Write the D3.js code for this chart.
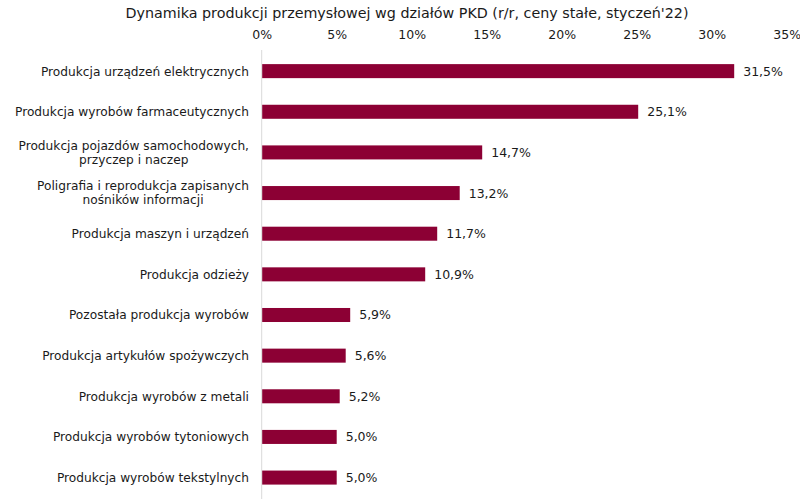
<!DOCTYPE html>
<html><head><meta charset="utf-8">
<script src="https://cdn.jsdelivr.net/npm/d3@7"></script>
<style>body{margin:0;background:#fff}svg{display:block}text{font-family:"DejaVu Sans",Verdana,sans-serif;fill:#1a1a1a}</style>
</head><body><svg id="c" width="800" height="499"></svg>
<script>
const title = "Dynamika produkcji przemysłowej wg działów PKD (r/r, ceny stałe, styczeń'22)";
const categories = [
  ["Produkcja urządzeń elektrycznych"],
  ["Produkcja wyrobów farmaceutycznych"],
  ["Produkcja pojazdów samochodowych,", "przyczep i naczep"],
  ["Poligrafia i reprodukcja zapisanych", "nośników informacji"],
  ["Produkcja maszyn i urządzeń"],
  ["Produkcja odzieży"],
  ["Pozostała produkcja wyrobów"],
  ["Produkcja artykułów spożywczych"],
  ["Produkcja wyrobów z metali"],
  ["Produkcja wyrobów tytoniowych"],
  ["Produkcja wyrobów tekstylnych"]
];
const values = [31.5, 25.1, 14.7, 13.2, 11.7, 10.9, 5.9, 5.6, 5.2, 5.0, 5.0];
const tickValues = [0, 5, 10, 15, 20, 25, 30, 35];

const svg = d3.select("#c");
const x = d3.scaleLinear().domain([0, 35]).range([261.7, 786.7]);
const y = d3.scaleBand().domain(d3.range(categories.length)).range([50.7, 498]).paddingInner(0.655).paddingOuter(0.33);
const fmt = v => v.toFixed(1).replace(".", ",") + "%";

svg.append("text").attr("x", 407).attr("y", 17.5).attr("text-anchor", "middle")
  .style("font-size", "14.3px").text(title);

const ax = svg.append("g").attr("transform", `translate(0,39)`)
  .call(d3.axisTop(x).tickValues(tickValues).tickSize(0).tickPadding(0).tickFormat(d => d + "%"));
ax.select(".domain").remove();
ax.selectAll("text").style("font-size", "12.5px").style("font-family", '"DejaVu Sans",Verdana,sans-serif').attr("fill", "#1a1a1a");

svg.append("line").attr("x1", x(0)).attr("x2", x(0)).attr("y1", 50).attr("y2", 499)
  .attr("stroke", "#d9d9d9").attr("stroke-width", 1);

svg.selectAll("rect.bar").data(values).join("rect").attr("class", "bar")
  .attr("x", x(0) + 0.5).attr("y", (d, i) => y(i)).attr("height", y.bandwidth())
  .attr("width", d => x(d) - x(0) - 0.5).attr("fill", "#8c0034");

svg.selectAll("text.val").data(values).join("text").attr("class", "val")
  .attr("x", d => x(d) + 9).attr("y", (d, i) => y(i) + y.bandwidth() / 2).attr("dy", "0.36em")
  .style("font-size", "12.5px").text(d => fmt(d));

const lab = svg.selectAll("g.lab").data(categories).join("g").attr("class", "lab");
lab.each(function(lines, i) {
  const g = d3.select(this);
  const cy = y(i) + y.bandwidth() / 2;
  const lh = 14;
  const t0 = g.append("text").attr("x", 249).attr("y", cy - (lines.length - 1) * lh / 2).attr("dy", "0.36em")
    .attr("text-anchor", "end").style("font-size", "12.2px").text(lines[0]);
  if (lines.length > 1) {
    const w = t0.node().getComputedTextLength();
    for (let k = 1; k < lines.length; k++) {
      g.append("text").attr("x", 249 - w / 2).attr("y", cy - (lines.length - 1) * lh / 2 + k * lh).attr("dy", "0.36em")
        .attr("text-anchor", "middle").style("font-size", "12.2px").text(lines[k]);
    }
  }
});
</script></body></html>
